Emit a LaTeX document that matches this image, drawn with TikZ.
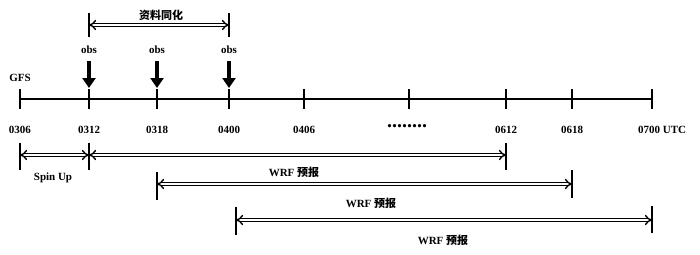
\documentclass[tikz,border=0pt]{standalone}
\usepackage{fontspec}
\setmainfont{Liberation Serif}
\newfontfamily\cjkfont{Noto Sans CJK SC}
\usetikzlibrary{arrows.meta,positioning,calc}

\begin{document}
\begin{tikzpicture}[
  x=1pt, y=-1pt,
  axis/.style={line width=1.3pt},
  tck/.style={line width=2pt},
  bar/.style={line width=1.8pt},
  lbl/.style={font=\fontsize{11}{13}\selectfont\bfseries, inner sep=1pt},
  obsarr/.style={line width=4.5pt, -{Triangle[length=10pt,width=13pt]}},
  span/.style={double, double distance=2pt, line width=1.4pt, {Implies}-{Implies}}
]
  \useasboundingbox (0,0) rectangle (700,254);

  % time axis
  \foreach \n/\x in {0306/20,0312/89,0318/157,0400/229,0406/304,dots/409,0612/506,0618/572,0700/652}{
    \coordinate (t\n) at (\x,99);
    \draw[tck] (\x,89) -- (\x,109);
  }
  \draw[axis] (t0306) -- (t0700);
  \foreach \n in {0306,0312,0318,0400,0406,0612,0618}
    \node[lbl] (l\n) at ($(t\n)+(0,31)$) {\n};
  \node[lbl, anchor=west] (l0700) at (637,130) {0700 UTC};
  \node[font=\fontsize{20}{20}\selectfont\bfseries, inner sep=0pt] (ldots) at (407,126) {........};
  \node[lbl] (gfs) at (20,78) {GFS};

  % observations
  \foreach \n in {0312,0318,0400}{
    \node[lbl] (obs\n) at ($(t\n)+(0,-49)$) {obs};
    \draw[obsarr] ($(t\n)+(0,-38)$) -- ($(t\n)+(0,-11)$);
  }

  % data assimilation window
  \coordinate (daa) at (89,25);
  \coordinate (dab) at (229,25);
  \draw[bar] (89,13) -- (89,37);
  \draw[bar] (229,13) -- (229,37);
  \draw[span] (daa) -- (dab);
  \node[lbl] (da) at (161,15) {\cjkfont 资料同化};

  % spin up and forecasts
  \coordinate (su) at (20,155);
  \coordinate (fa) at (89,155);
  \coordinate (fb) at (506,155);
  \draw[bar] (20,143) -- (20,170);
  \draw[bar] (89,143) -- (89,170);
  \draw[bar] (506,143) -- (506,170);
  \draw[span] (su) -- (fa);
  \draw[span] (fa) -- (fb);
  \node[lbl] (spin) at (53,178) {Spin Up};

  \coordinate (fc) at (157,184);
  \coordinate (fd) at (572,184);
  \draw[bar] (157,172) -- (157,200);
  \draw[bar] (572,170) -- (572,198);
  \draw[span] (fc) -- (fd);
  \node[lbl] (wrfa) at (294,172) {WRF {\cjkfont 预报}};

  \coordinate (fe) at (236,220);
  \coordinate (ff) at (652,220);
  \draw[bar] (236,207) -- (236,235);
  \draw[bar] (652,206) -- (652,233);
  \draw[span] (fe) -- (ff);
  \node[lbl] (wrfb) at (371,203) {WRF {\cjkfont 预报}};
  \node[lbl] (wrfc) at (443,240) {WRF {\cjkfont 预报}};
\end{tikzpicture}
\end{document}
